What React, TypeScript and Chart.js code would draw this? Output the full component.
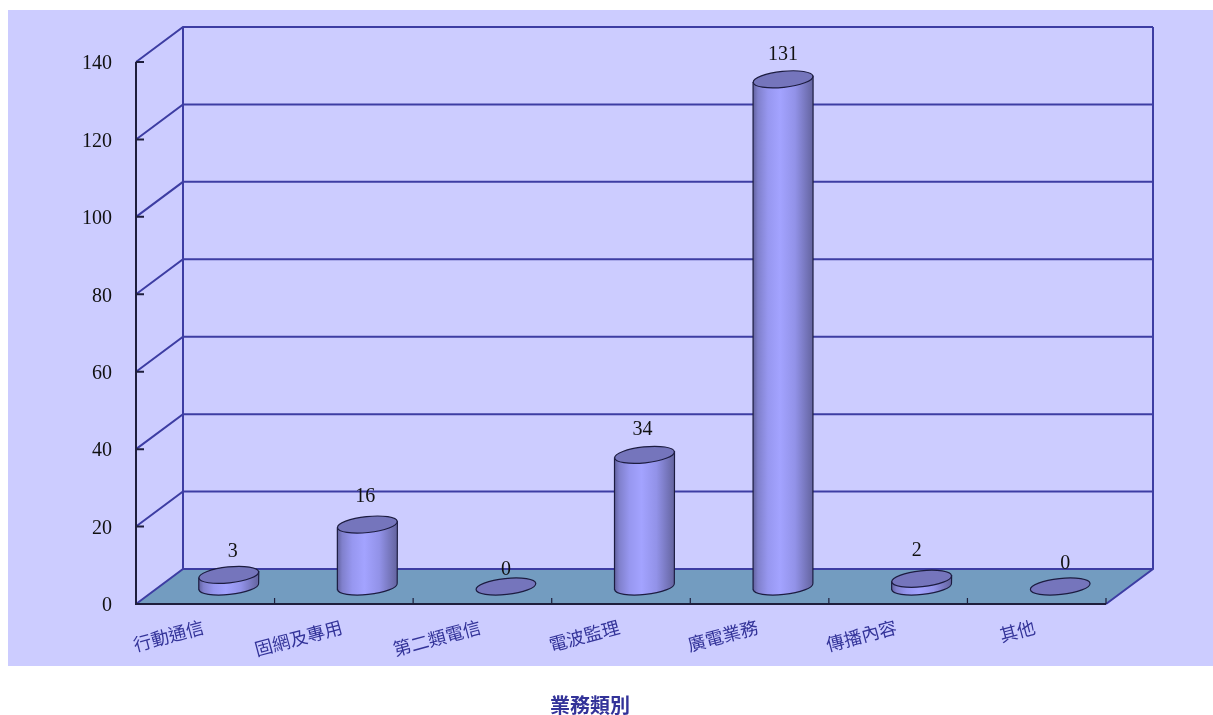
import React, { useEffect, useRef } from "react";
import { Chart, registerables } from "chart.js";

Chart.register(...registerables);

const categories = ["行動通信", "固網及專用", "第二類電信", "電波監理", "廣電業務", "傳播內容", "其他"];
const caseCounts = [3, 16, 0, 34, 131, 2, 0];
const yTickValues = [0, 20, 40, 60, 80, 100, 120, 140];
const xAxisTitle = "業務類別";

const depthX = 47;
const depthY = -35;
const labelNudges = [[4, 2], [-2, -3], [0, 8], [-2, 0], [0, 0], [-5, -3], [5, 2]];

const panelFill = "#CCCCFF";
const floorFill = "#739CC0";
const wallLine = "#3D3DA3";
const axisLine = "#1E1E3C";
const capFill = "#7575BC";
const font = "Liberation Serif";
const cjk = "Noto Sans CJK TC";

function cylinder(ctx: CanvasRenderingContext2D, cx: number, topY: number, baseY: number, rx: number) {
  const ry = 8;
  const tilt = (-6 * Math.PI) / 180;
  const grad = ctx.createLinearGradient(cx - rx, 0, cx + rx, 0);
  grad.addColorStop(0, "#62629F");
  grad.addColorStop(0.08, "#8080CC");
  grad.addColorStop(0.25, "#9797F0");
  grad.addColorStop(0.45, "#A3A3FF");
  grad.addColorStop(0.7, "#9292E8");
  grad.addColorStop(0.97, "#6868A6");
  ctx.save();
  ctx.lineWidth = 1.2;
  ctx.strokeStyle = "#1c1c40";
  if (baseY - topY > 0.5) {
    const dy = rx * Math.sin(tilt);
    ctx.beginPath();
    ctx.moveTo(cx - rx, topY - dy);
    ctx.lineTo(cx - rx, baseY - dy);
    ctx.ellipse(cx, baseY, rx, ry, tilt, Math.PI, 0, true);
    ctx.lineTo(cx + rx, topY + dy);
    ctx.closePath();
    ctx.fillStyle = grad;
    ctx.fill();
    ctx.stroke();
  }
  ctx.beginPath();
  ctx.ellipse(cx, topY, rx, ry, tilt, 0, Math.PI * 2);
  ctx.fillStyle = capFill;
  ctx.fill();
  ctx.stroke();
  ctx.restore();
}

const scenePlugin = {
  id: "scene",
  afterLayout(chart: any) {
    const t = chart.titleBlock;
    if (t) {
      t.left = 0;
      t.right = 1180;
    }
  },
  beforeDraw(chart: any) {
    const { ctx, chartArea: a, scales } = chart;
    const y = scales.y;
    ctx.save();
    ctx.fillStyle = "#ffffff";
    ctx.fillRect(0, 0, chart.width, chart.height);
    ctx.fillStyle = panelFill;
    ctx.fillRect(8, 10, chart.width - 8, 656);

    // floor
    ctx.beginPath();
    ctx.moveTo(a.left, a.bottom);
    ctx.lineTo(a.left + depthX, a.bottom + depthY);
    ctx.lineTo(a.right + depthX, a.bottom + depthY);
    ctx.lineTo(a.right, a.bottom);
    ctx.closePath();
    ctx.fillStyle = floorFill;
    ctx.fill();

    // walls
    ctx.strokeStyle = wallLine;
    ctx.lineWidth = 2;
    for (const tick of y.ticks) {
      const py = y.getPixelForValue(tick.value);
      ctx.beginPath();
      ctx.moveTo(a.left, py);
      ctx.lineTo(a.left + depthX, py + depthY);
      ctx.lineTo(a.right + depthX, py + depthY);
      ctx.stroke();
    }
    ctx.beginPath();
    ctx.moveTo(a.left + depthX, a.top + depthY);
    ctx.lineTo(a.left + depthX, a.bottom + depthY);
    ctx.moveTo(a.right + depthX, a.top + depthY);
    ctx.lineTo(a.right + depthX, a.bottom + depthY);
    ctx.lineTo(a.right, a.bottom);
    ctx.stroke();

    // axes with inward ticks
    ctx.strokeStyle = axisLine;
    ctx.lineWidth = 2;
    ctx.beginPath();
    ctx.moveTo(a.left, a.top);
    ctx.lineTo(a.left, a.bottom);
    ctx.lineTo(a.right, a.bottom);
    for (const tick of y.ticks) {
      const py = y.getPixelForValue(tick.value);
      ctx.moveTo(a.left, py);
      ctx.lineTo(a.left + 8, py);
    }
    ctx.stroke();
    ctx.lineWidth = 1.2;
    ctx.beginPath();
    const step = (a.right - a.left) / categories.length;
    for (let i = 1; i <= categories.length; i++) {
      ctx.moveTo(a.left + step * i, a.bottom);
      ctx.lineTo(a.left + step * i, a.bottom - 6);
    }
    ctx.stroke();
    ctx.restore();
  },
  beforeDatasetDraw(chart: any, args: any) {
    const { ctx } = chart;
    const meta = chart.getDatasetMeta(args.index);
    const values = chart.data.datasets[args.index].data;
    meta.data.forEach((el: any, i: number) => {
      const cx = el.x + depthX / 2;
      const topY = el.y + depthY / 2;
      const baseY = el.base + depthY / 2;
      cylinder(ctx, cx, topY, baseY, el.width / 2);
      const [nx, ny] = labelNudges[i];
      ctx.save();
      ctx.fillStyle = "#111111";
      ctx.font = `20px "${font}"`;
      ctx.textAlign = "center";
      ctx.textBaseline = "middle";
      ctx.fillText(String(values[i]), cx + nx, topY - 25 + ny);
      ctx.restore();
    });
    return false;
  },
};

export default function App() {
  const ref = useRef<HTMLCanvasElement>(null);
  useEffect(() => {
    const chart = new Chart(ref.current as HTMLCanvasElement, {
      type: "bar",
      plugins: [scenePlugin],
      data: {
        labels: categories,
        datasets: [{ label: xAxisTitle, data: caseCounts, backgroundColor: "#9999FF", barThickness: 60 }],
      },
      options: {
        responsive: false,
        animation: false,
        devicePixelRatio: 1,
        layout: { padding: { left: 0, top: 62, right: 107, bottom: 0 } },
        plugins: {
          legend: { display: false },
          tooltip: { enabled: false },
          title: {
            display: true,
            text: xAxisTitle,
            position: "bottom",
            color: "#333399",
            padding: { top: 0, bottom: -2 },
            font: { family: cjk, size: 20, weight: "bold" },
          },
        },
        scales: {
          x: {
            grid: { display: false, drawTicks: false },
            border: { display: false },
            afterFit: (s: any) => { s.height = 89; },
            ticks: {
              autoSkip: false,
              minRotation: 15,
              maxRotation: 15,
              padding: 12,
              labelOffset: -2,
              color: "#333399",
              font: { family: cjk, size: 18 },
            },
          },
          y: {
            min: 0,
            max: 140,
            afterFit: (s: any) => { s.width = 136; },
            afterBuildTicks: (s: any) => { s.ticks = yTickValues.map((value) => ({ value })); },
            grid: { display: false, drawTicks: false },
            border: { display: false },
            ticks: { padding: 24, labelOffset: 2, color: "#111111", font: { family: font, size: 20 } },
          },
        },
      } as any,
    });
    return () => chart.destroy();
  }, []);
  return (
    <canvas
      ref={ref}
      width={1213}
      height={715}
      style={{ position: "fixed", left: 0, top: 0, display: "block" }}
    />
  );
}
